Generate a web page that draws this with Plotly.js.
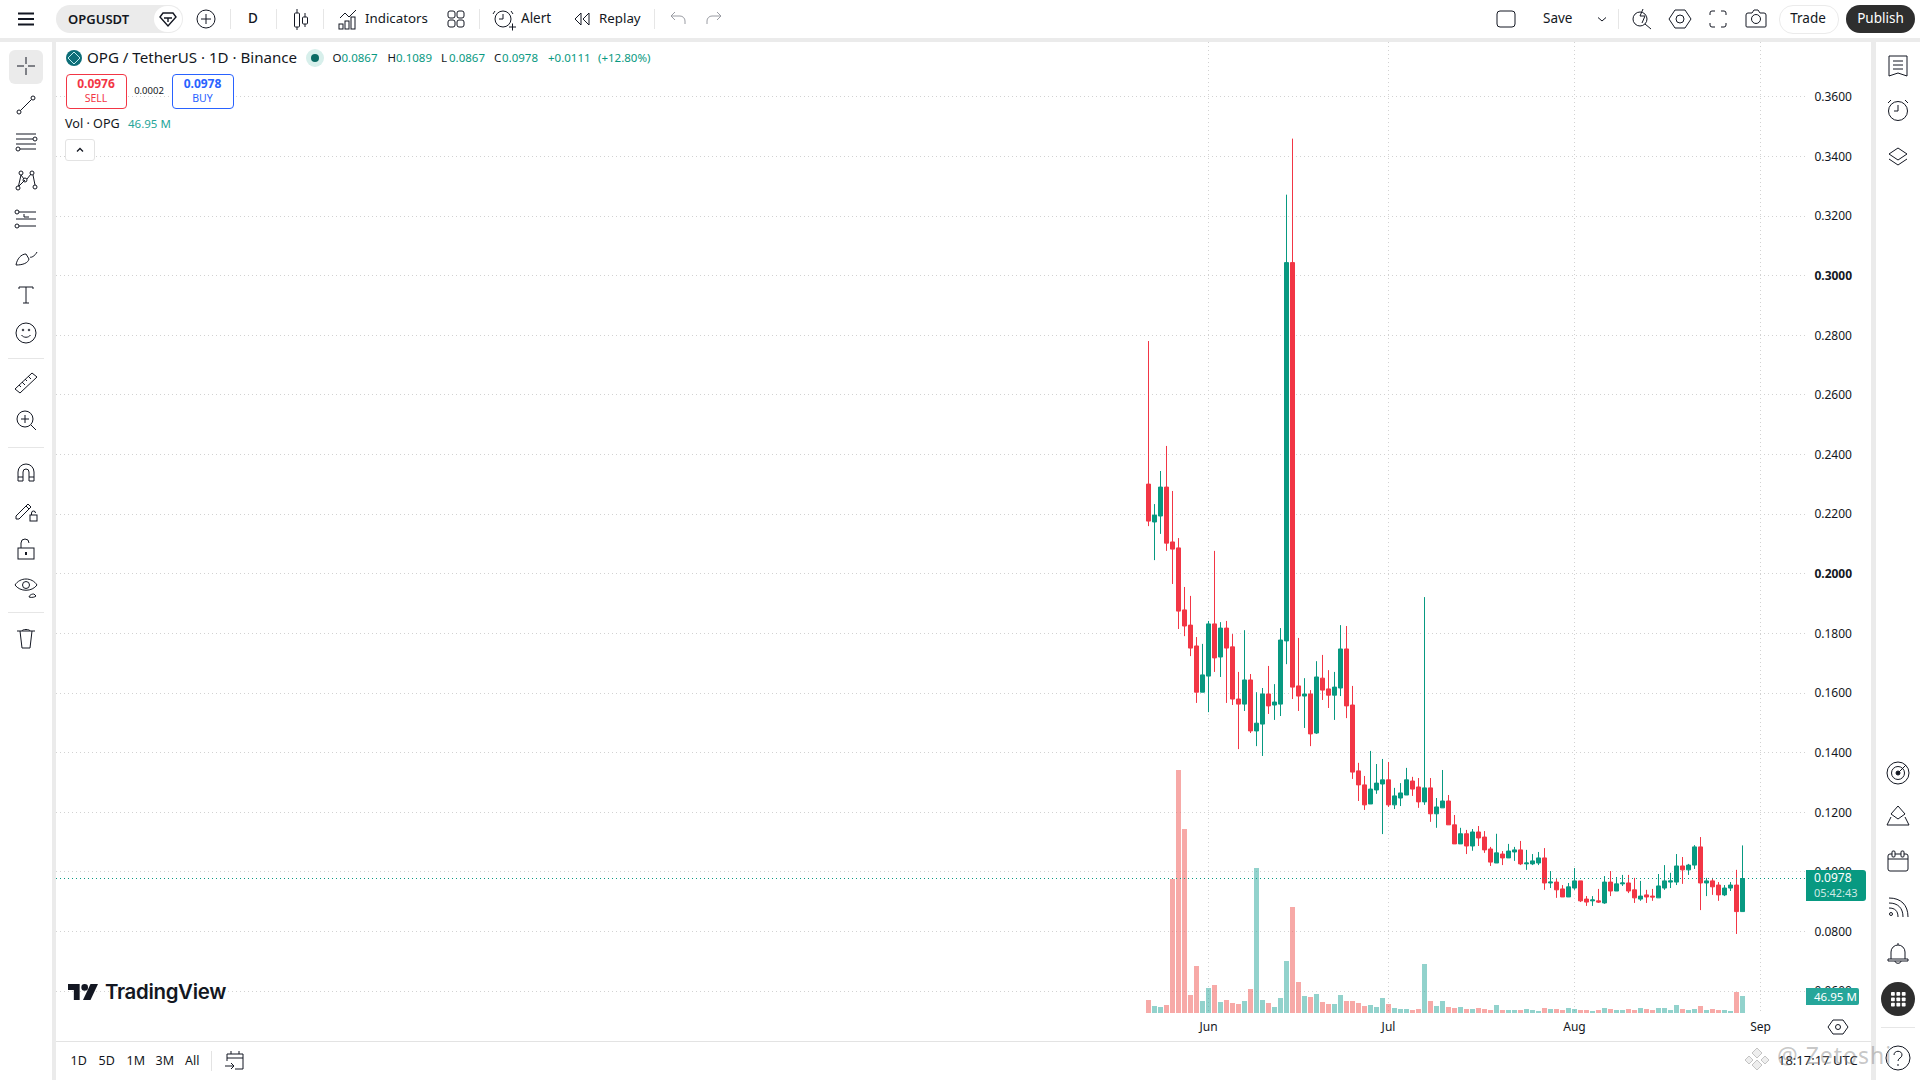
<!DOCTYPE html>
<html><head><meta charset="utf-8">
<script src="https://cdn.plot.ly/plotly-3.0.1.min.js"></script>
<style>
html,body{margin:0;padding:0;background:#fff;width:1920px;height:1080px;overflow:hidden;font-family:"Noto Sans",sans-serif;color:#131722}
#chart{position:absolute;left:0;top:0;width:1920px;height:1080px}
#ui{position:absolute;left:0;top:0;width:1920px;height:1080px;pointer-events:none}
#ui div,#ui span{position:absolute;white-space:nowrap}
.t{transform:translateY(-50%);line-height:1}
svg{position:absolute;overflow:visible}
</style></head><body>
<div id="chart"></div><div id="ui"></div>
<script>
const dates=["2026-05-22","2026-05-23","2026-05-24","2026-05-25","2026-05-26","2026-05-27","2026-05-28","2026-05-29","2026-05-30","2026-05-31",
"2026-06-01","2026-06-02","2026-06-03","2026-06-04","2026-06-05","2026-06-06","2026-06-07","2026-06-08","2026-06-09","2026-06-10",
"2026-06-11","2026-06-12","2026-06-13","2026-06-14","2026-06-15","2026-06-16","2026-06-17","2026-06-18","2026-06-19","2026-06-20",
"2026-06-21","2026-06-22","2026-06-23","2026-06-24","2026-06-25","2026-06-26","2026-06-27","2026-06-28","2026-06-29","2026-06-30",
"2026-07-01","2026-07-02","2026-07-03","2026-07-04","2026-07-05","2026-07-06","2026-07-07","2026-07-08","2026-07-09","2026-07-10",
"2026-07-11","2026-07-12","2026-07-13","2026-07-14","2026-07-15","2026-07-16","2026-07-17","2026-07-18","2026-07-19","2026-07-20",
"2026-07-21","2026-07-22","2026-07-23","2026-07-24","2026-07-25","2026-07-26","2026-07-27","2026-07-28","2026-07-29","2026-07-30",
"2026-07-31","2026-08-01","2026-08-02","2026-08-03","2026-08-04","2026-08-05","2026-08-06","2026-08-07","2026-08-08","2026-08-09",
"2026-08-10","2026-08-11","2026-08-12","2026-08-13","2026-08-14","2026-08-15","2026-08-16","2026-08-17","2026-08-18","2026-08-19",
"2026-08-20","2026-08-21","2026-08-22","2026-08-23","2026-08-24","2026-08-25","2026-08-26","2026-08-27","2026-08-28","2026-08-29"];
const opens=[.2301,.2174,.2194,.2291,.2107,.2087,.1879,.1828,.1758,.1603,
.1657,.1832,.1721,.1818,.1755,.1580,.1563,.1644,.1473,.1496,
.1597,.1560,.1563,.1775,.3044,.1624,.1590,.1597,.1466,.1650,
.1614,.1593,.1617,.1748,.1560,.1339,.1292,.1228,.1275,.1295,
.1309,.1225,.1248,.1258,.1305,.1285,.1235,.1282,.1195,.1215,
.1238,.1158,.1094,.1128,.1087,.1134,.1117,.1077,.1030,.1060,
.1047,.1067,.1074,.1027,.1027,.1030,.1047,.0963,.0966,.0943,
.0916,.0946,.0970,.0909,.0903,.0903,.0896,.0966,.0936,.0960,
.0963,.0940,.0909,.0923,.0919,.0913,.0946,.0966,.0966,.1020,
.1007,.1023,.1084,.0963,.0970,.0956,.0923,.0946,.0956,.0867];
const highs=[.2781,.2234,.2345,.2429,.2278,.2120,.1956,.1926,.1788,.1765,
.1842,.2077,.1838,.1842,.1798,.1671,.1811,.1664,.1603,.1617,
.1691,.1630,.1818,.3272,.3460,.1785,.1650,.1610,.1707,.1728,
.1677,.1671,.1828,.1825,.1624,.1366,.1322,.1406,.1362,.1379,
.1369,.1282,.1298,.1349,.1319,.1315,.1922,.1315,.1248,.1342,
.1258,.1191,.1148,.1141,.1144,.1154,.1137,.1084,.1128,.1070,
.1094,.1084,.1104,.1074,.1060,.1067,.1080,.1003,.0980,.0956,
.0963,.1013,.0970,.0919,.0919,.0943,.0986,.1003,.0983,.0990,
.0990,.0980,.0970,.0940,.0943,.0993,.1023,.0997,.1060,.1050,
.1027,.1090,.1117,.0980,.0980,.0966,.0956,.0966,.1007,.1089];
const lows=[.2160,.2046,.2134,.2077,.1966,.1815,.1791,.1724,.1567,.1603,
.1536,.1671,.1654,.1567,.1560,.1412,.1540,.1466,.1422,.1389,
.1530,.1510,.1523,.1697,.1580,.1540,.1483,.1422,.1463,.1577,
.1550,.1510,.1590,.1516,.1312,.1238,.1208,.1228,.1262,.1127,
.1218,.1211,.1221,.1258,.1255,.1215,.1225,.1168,.1148,.1215,
.1158,.1094,.1094,.1060,.1071,.1087,.1064,.1020,.1030,.1023,
.1047,.1037,.1023,.1007,.1023,.1023,.0940,.0946,.0913,.0916,
.0916,.0940,.0899,.0886,.0886,.0896,.0893,.0919,.0936,.0953,
.0929,.0896,.0903,.0896,.0903,.0913,.0940,.0946,.0956,.0960,
.0990,.1010,.0872,.0919,.0923,.0903,.0919,.0936,.0792,.0867];
const closes=[.2177,.2197,.2291,.2103,.2083,.1875,.1825,.1751,.1603,.1661,
.1832,.1718,.1818,.1751,.1580,.1563,.1644,.1473,.1499,.1597,
.1557,.1570,.1778,.3044,.1620,.1590,.1597,.1463,.1654,.1610,
.1593,.1620,.1748,.1557,.1335,.1292,.1225,.1278,.1298,.1309,
.1225,.1255,.1265,.1309,.1278,.1235,.1282,.1195,.1218,.1238,
.1158,.1094,.1128,.1087,.1134,.1114,.1074,.1033,.1064,.1047,
.1070,.1074,.1027,.1030,.1037,.1047,.0963,.0966,.0940,.0916,
.0950,.0970,.0903,.0899,.0906,.0899,.0966,.0936,.0960,.0963,
.0936,.0913,.0919,.0916,.0916,.0953,.0970,.0970,.1020,.1007,
.1023,.1084,.0963,.0970,.0950,.0923,.0946,.0956,.0867,.0978];
const volumes=[35.9,19.3,16.6,22.1,370.1,671.1,508.2,49.7,129.8,33.1,
69.0,77.3,30.4,35.9,27.6,24.9,33.1,66.3,400.5,35.9,
27.6,16.6,41.4,143.6,292.8,85.6,46.9,44.2,52.5,30.4,
24.9,24.9,49.7,33.1,33.1,27.6,19.3,22.1,16.6,41.4,
24.9,13.8,11.0,11.0,8.3,11.0,135.3,33.1,19.3,33.1,
16.6,13.8,16.6,11.0,11.0,13.8,11.0,8.3,22.1,8.3,
8.3,8.3,8.3,11.0,8.3,5.5,13.8,11.0,11.0,8.3,
13.8,11.0,8.3,8.3,5.5,8.3,13.8,11.0,8.3,8.3,
11.0,8.3,13.8,11.0,8.3,13.8,13.8,8.3,22.1,11.0,
8.3,11.0,19.3,8.3,11.0,8.3,8.3,5.5,58.0,46.95];
const priceTicks=[.06,.08,.10,.12,.14,.16,.18,.20,.22,.24,.26,.28,.30,.32,.34,.36];
const priceTickLabels=["0.0600","0.0800","0.1000","0.1200","0.1400","0.1600","0.1800","<b>0.2000</b>","0.2200","0.2400","0.2600","0.2800","<b>0.3000</b>","0.3200","0.3400","0.3600"];
const monthTicks=["2026-06-01","2026-07-01","2026-08-01","2026-09-01"];
const monthLabels=["Jun","Jul","Aug","Sep"];
const lastPrice=0.0978;

const UP='#089981',DOWN='#F23645';
const volColors=closes.map((c,i)=>c>=opens[i]?'rgba(38,166,154,0.5)':'rgba(239,83,80,0.5)');
const FONT='"Noto Sans",sans-serif';
const traces=[
 {type:'bar',x:dates,y:volumes,yaxis:'y',xaxis:'x',marker:{color:volColors,line:{width:0}},hoverinfo:'skip'},
 {type:'candlestick',x:dates,open:opens,high:highs,low:lows,close:closes,yaxis:'y2',xaxis:'x',
  increasing:{line:{color:UP,width:1},fillcolor:UP},decreasing:{line:{color:DOWN,width:1},fillcolor:DOWN},hoverinfo:'skip'}
];
const layout={
 width:1920,height:1080,autosize:false,showlegend:false,
 margin:{l:56,r:114,t:42,b:67,pad:0},
 paper_bgcolor:'#fff',plot_bgcolor:'#fff',
 font:{family:FONT,size:12,color:'#131722'},
 bargap:1/6,boxgap:1/3,boxgroupgap:0,
 xaxis:{type:'date',range:['2025-11-20 22:00','2026-09-08 14:00'],rangeslider:{visible:false},
  tickmode:'array',tickvals:monthTicks,ticktext:monthLabels,showgrid:true,gridcolor:'#d2d2d2',griddash:'1px,3px',gridwidth:1,
  zeroline:false,showline:false,ticks:'outside',ticklen:3,tickcolor:'rgba(0,0,0,0)',tickfont:{family:FONT,size:12,color:'#131722'}},
 yaxis:{range:[0,2682],visible:false,fixedrange:true},
 yaxis2:{overlaying:'y',side:'right',range:[0.05268,0.37841],tickmode:'array',tickvals:priceTicks,ticktext:priceTickLabels,
  showgrid:true,gridcolor:'#d2d2d2',griddash:'1px,3px',gridwidth:1,zeroline:false,showline:false,
  ticks:'outside',ticklen:5,tickcolor:'rgba(0,0,0,0)',tickfont:{family:FONT,size:12,color:'#131722'}},
 shapes:[{type:'line',xref:'paper',x0:0,x1:1,yref:'y2',y0:lastPrice,y1:lastPrice,line:{color:UP,width:1,dash:'1px,3px'},layer:'above'}]
};
Plotly.newPlot('chart',traces,layout,{displayModeBar:false,staticPlot:true});

/* --- chrome around the chart --- */
const ui=document.getElementById('ui');let h='';
const box=(x,y,w,hh,st)=>{h+=`<div style="left:${x}px;top:${y}px;width:${w}px;height:${hh}px;${st||''}"></div>`};
const txt=(x,y,s,st)=>{h+=`<span class="t" style="left:${x}px;top:${y}px;${st||''}">${s}</span>`};
const ctr=(x,y,s,st)=>{h+=`<span class="t" style="left:${x}px;top:${y}px;transform:translate(-50%,-50%);${st||''}">${s}</span>`};
const ic=(cx,cy,inner,sw)=>{h+=`<svg width="28" height="28" viewBox="0 0 28 28" style="left:${cx-14}px;top:${cy-14}px" fill="none" stroke="#131722" stroke-width="${sw||1}">${inner}</svg>`};
const GR='#ebebeb';
box(0,0,1920,38,'background:#fff');
box(0,38,1920,4,'background:'+GR);
box(0,42,52,1038,'background:#fff');
box(52,42,4,1038,'background:'+GR);
box(1871,42,5,1038,'background:'+GR);
box(1876,42,44,1038,'background:#fff');
box(56,1041,1815,1,'background:#e3e3e3');
/* top bar */
ic(26,19,'<path d="M6 8.5h16M6 14h16M6 19.5h16" stroke-width="2"/>');
box(56,5,127,28,'background:#ebebeb;border-radius:14px');
txt(68,19,'OPGUSDT','font-size:13px;font-weight:600');
box(154,6,28,26,'background:#fff;border-radius:13px');
ic(168,19,'<path d="M9 8h10l3 4-8 9-8-9zM10 13h8M14 13v4"/>',1.4);
ic(206,19,'<circle cx="14" cy="14" r="9"/><path d="M14 9v10M9 14h10"/>');
box(230,9,1,20,'background:#e6e6e6');
ctr(253,19,'D','font-size:13.5px;font-weight:500');
box(276,9,1,20,'background:#e6e6e6');
ic(301,19,'<path d="M10 4v4M10 22v3M18 8v4M18 19v3"/><rect x="7.5" y="8" width="5" height="14" rx="1"/><rect x="15.5" y="12" width="5" height="7" rx="1"/>');
box(323,9,1,20,'background:#e6e6e6');
ic(348,19,'<path d="M6 13l5-5 4 4 7-7" /><rect x="5" y="19" width="4" height="5"/><rect x="11" y="16" width="4" height="8"/><rect x="17" y="12" width="4" height="12"/>');
txt(365,19,'Indicators','font-size:13.3px');
ic(456,19,'<rect x="6" y="6" width="7" height="7" rx="2"/><rect x="15" y="6" width="7" height="7" rx="2"/><rect x="6" y="15" width="7" height="7" rx="2"/><rect x="15" y="15" width="7" height="7" rx="2"/>');
box(479,9,1,20,'background:#e6e6e6');
ic(503,19,'<circle cx="14" cy="14" r="8"/><path d="M14 9v5h-4M6 6l-2 3M22 6l2 3M20 22h7M23.5 18.500v7" />');
txt(521,19,'Alert','font-size:13.5px');
ic(582,19,'<path d="M13 8l-6 6 6 6zM21 8l-6 6 6 6z"/>');
txt(599,19,'Replay','font-size:13.3px');
box(654,9,1,20,'background:#e6e6e6');
ic(677,19,'<path d="M8 11h9a5 5 0 0 1 5 5v3M12 7l-4 4 4 4" stroke="#9a9ca3"/>');
ic(715,19,'<path d="M20 11h-9a5 5 0 0 0-5 5v3M16 7l4 4-4 4" stroke="#9a9ca3"/>');
ic(1506,19,'<rect x="5" y="6" width="18" height="16" rx="3"/>');
txt(1543,19,'Save','font-size:13.5px');
ic(1602,19,'<path d="M10 12.500l4 3.500 4-3.500"/>');
box(1618,9,1,20,'background:#e6e6e6');
ic(1642,19,'<circle cx="12" cy="14" r="7"/><path d="M17 19l6 5M15 4l-3 7h5l-3 7"/>');
ic(1680,19,'<path d="M9 5h10l6 9-6 9H9l-6-9z"/><circle cx="14" cy="14" r="4"/>');
ic(1718,19,'<path d="M6 10V8a2 2 0 0 1 2-2h3M17 6h3a2 2 0 0 1 2 2v2M22 18v2a2 2 0 0 1-2 2h-3M11 22H8a2 2 0 0 1-2-2v-2"/>');
ic(1756,19,'<path d="M4 10a2 2 0 0 1 2-2h4l2-3h4l2 3h4a2 2 0 0 1 2 2v11a1 1 0 0 1-1 1H5a1 1 0 0 1-1-1z"/><circle cx="14" cy="14" r="4.500"/>');
box(1779,5,58,27,'border:1px solid #ebebeb;border-radius:14px;background:#fff');
ctr(1808,19,'Trade','font-size:13.5px');
box(1846,5,69,28,'background:#2e2e2e;border-radius:14px');
ctr(1880.5,19,'Publish','font-size:13.5px;color:#fff');
/* left toolbar */
box(9,50,34,34,'background:#ebebeb;border-radius:6px');
ic(26,66,'<path d="M14 5v7M14 16v7M5 14h7M16 14h7"/>');
ic(26,105,'<path d="M8.500 19.500l11-11"/><circle cx="7" cy="21" r="2"/><circle cx="21" cy="7" r="2"/>');
ic(26,142,'<path d="M4 6h20M4 11h17M4 16h20M8 21h16"/><circle cx="23" cy="11" r="2"/><circle cx="6" cy="21" r="2"/>');
ic(26,180,'<circle cx="6" cy="22" r="2"/><circle cx="9" cy="7" r="2"/><circle cx="13" cy="14" r="2"/><circle cx="20" cy="7" r="2"/><circle cx="23" cy="21" r="2"/><path d="M7 20l6-6M9 9l3 4M15 13l4-5M21 9l2 10M6.500 20L9 9"/>');
ic(26,219,'<path d="M4 7h20M4 14h20M4 21h20M12 9v3h5"/><circle cx="5" cy="7" r="2" fill="#fff"/><circle cx="5" cy="21" r="2" fill="#fff"/>');
ic(26,257,'<path d="M4 22c1-6 5-11 10-11l3 5c-1 4-6 6-13 6zM18 14c1 1 5-1 7-5"/>');
ic(26,295,'<path d="M7 8V6h14v2M14 6v16M11 22h6"/>');
ic(26,333,'<circle cx="14" cy="14" r="10"/><path d="M9.500 16c2 3 7 3 9 0"/><circle cx="11" cy="11" r=".8"/><circle cx="17" cy="11" r=".8"/>');
box(8,358,36,1,'background:#e6e6e6');
ic(26,383,'<path d="M3 20L20 4l5 4L8 24zM7 16l2 2M10 13l3 3M13 10l2 2M16 7l3 3"/>');
ic(26,420,'<circle cx="13" cy="13" r="8"/><path d="M19 19l5 5M13 9v8M9 13h8"/>');
box(8,447,36,1,'background:#e6e6e6');
ic(26,473,'<path d="M6 22V13a8 8 0 0 1 16 0v9h-5v-9a3 3 0 0 0-6 0v9zM6 18h5M17 18h5"/>');
ic(26,511,'<path d="M4 19L16 7l3 3L7 22H4zM14 9l3 3"/><rect x="18" y="18" width="7" height="6"/><path d="M19.500 18v-2a2 2 0 0 1 4 0"/>');
ic(26,549,'<rect x="6" y="13" width="16" height="11"/><path d="M9 13V8a4 4 0 0 1 8 0"/><path d="M14 17v3" stroke-width="2"/>');
ic(26,587,'<path d="M3 12c5-8 17-8 22 0-5 7-17 7-22 0z"/><circle cx="14" cy="12" r="3.500"/><path d="M17 24c1-3 4-3 5-3l2 2c-1 1-4 2-7 1z"/>');
box(8,612,36,1,'background:#e6e6e6');
ic(26,638,'<path d="M5 7h18M8 7l2 17h8l2-17M10 7c0-2 8-2 8 0"/>');
/* right toolbar */
ic(1898,66,'<path d="M5 4h18v20l-9-3-9 3zM9 9h10M9 13h10M9 17h10"/>');
ic(1898,110,'<circle cx="14" cy="15" r="9.500"/><path d="M14 9v6h-4M4 7l3-3M24 7l-3-3"/>');
ic(1898,157,'<path d="M14 5l9 6-9 6-9-6zM5 16l9 6 9-6"/>');
ic(1898,773,'<circle cx="14" cy="14" r="11"/><circle cx="14" cy="14" r="6.500"/><circle cx="14" cy="14" r="2" fill="#131722"/><path d="M14 14l8-8"/>');
ic(1898,816,'<path d="M14 4l7 8-7 5-7-5zM7 15L3 23h22l-4-8"/>');
ic(1898,861,'<rect x="4" y="7" width="20" height="17" rx="2"/><path d="M4 12h20"/><rect x="8" y="4" width="3" height="6" rx="1" fill="#fff"/><rect x="17" y="4" width="3" height="6" rx="1" fill="#fff"/>');
ic(1898,907,'<circle cx="7" cy="21" r="1.500"/><path d="M5 15c6 0 9 3 9 9M5 10c9 0 14 5 14 14M5 5c12 0 19 7 19 19"/>');
ic(1898,953,'<path d="M7 20v-7a7 7 0 0 1 14 0v7M4 20h20v2H4zM11 22c0 3 6 3 6 0M14 4v2"/>');
box(1881,982,34,34,'background:#2e2e2e;border-radius:17px');
{let g='';for(let r=0;r<3;r++)for(let c=0;c<3;c++)g+=`<rect x="${7+c*5.4}" y="${7+r*5.4}" width="3.800" height="3.800" rx=".8" fill="#fff" stroke="none"/>`;ic(1898,999,g);}
box(1881,1027,34,1,'background:#e6e6e6');
ic(1898,1058,'<circle cx="14" cy="14" r="12"/><path d="M10 11c0-5 8-5 8 0 0 3-4 3-4 6M14 20v2"/>');
/* legend */
box(66,50,16,16,'background:#0d6e78;border-radius:8px');
ic(74,58,'<path d="M14 8l6 6-6 6-6-6z" stroke="#bfeef0"/>');
txt(87,58,'OPG / TetherUS · 1D · Binance','font-size:15.1px');
box(306,49,18,18,'background:#d7efeb;border-radius:9px');
box(311,54,8,8,'background:#0a6b64;border-radius:4px');
const LG='#089981',LS='font-size:11.500px;color:'+LG;
[[332.500,'O'],[387.500,'H'],[441,'L'],[494,'C']].forEach(a=>txt(a[0],58,a[1],'font-size:11.500px'));
[[341.500,'0.0867'],[396,'0.1089'],[449,'0.0867'],[502,'0.0978'],[548,'+0.0111'],[598,'(+12.80%)']].forEach(a=>txt(a[0],58,a[1],LS));
box(66,74,59,33,'border:1px solid #f23645;border-radius:4px;background:#fff');
ctr(96,84,'0.0976','font-size:12px;font-weight:700;color:#f23645');
ctr(96,98,'SELL','font-size:10.500px;color:#f23645');
ctr(149,90.500,'0.0002','font-size:9.500px');
box(172,74,60,33,'border:1px solid #2962ff;border-radius:4px;background:#fff');
ctr(202.500,84,'0.0978','font-size:12px;font-weight:700;color:#2962ff');
ctr(202.500,98,'BUY','font-size:10.500px;color:#2962ff');
txt(65,124,'Vol · OPG','font-size:12.6px');
txt(128,124,'46.95 M','font-size:11.500px;color:#26a69a');
box(65,139,28,20,'border:1px solid #e3e3e3;border-radius:3px;background:#fff');
ic(79.500,149.500,'<path d="M11 15.500l3-3 3 3"/>',1.3);
/* logo */
h+=`<svg width="30" height="16" viewBox="0 0 36 19" style="left:68px;top:984px"><path fill="#131722" d="M0 0h14v19H7V7H0zM20 0a4 4 0 1 1 0 8 4 4 0 0 1 0-8zM27 0h9l-9 19h-9z"/></svg>`;
txt(105,992,'TradingView','font-size:20.4px;font-weight:600;font-family:Inter,sans-serif;letter-spacing:-.3px;color:#131722');
/* bottom bar */
[[70.500,'1D'],[98.500,'5D'],[126.500,'1M'],[155.500,'3M'],[185,'All']].forEach(a=>txt(a[0],1061,a[1],'font-size:12.5px'));
box(211,1051,1,20,'background:#e3e3e3');
ic(235,1061,'<path d="M6 14V7h16v15h-8M6 11h16M10 4v3M18 4v3M4 19h9M10 16l3 3-3 3"/>');
txt(1778,1060,'18:17:17 UTC','font-size:13px');
ic(1838,1027,'<path d="M9 7h10l5 7-5 7H9l-5-7z"/><circle cx="14" cy="14" r="2.500"/>');
/* price and volume tags */
box(1806,870,60,31,'background:#089981;border-radius:0 3px 3px 0');
txt(1814,878,'0.0978','font-size:12px;color:#fff');
txt(1814,892,'05:42:43','font-size:11px;color:#cdeae4');
box(1806,988,53,17,'background:#26a69a;border-radius:0 2px 2px 0');
txt(1814,997,'46.95 M','font-size:11.5px;color:#fff');
/* overlaid source watermark */
ic(1757,1058,'<path d="M14 4l5 5-5 5-5-5zM6 12l4 4-4 4-4-4zM22 12l4 4-4 4-4-4zM14 16l5 5-5 5-5-5z" stroke="#c4c4c4" fill="#eeeeee"/>');
txt(1777,1055,'@ Zetoshi','font-size:23px;color:rgba(130,130,130,.45);letter-spacing:1px');
ui.innerHTML=h;
</script></body></html>
